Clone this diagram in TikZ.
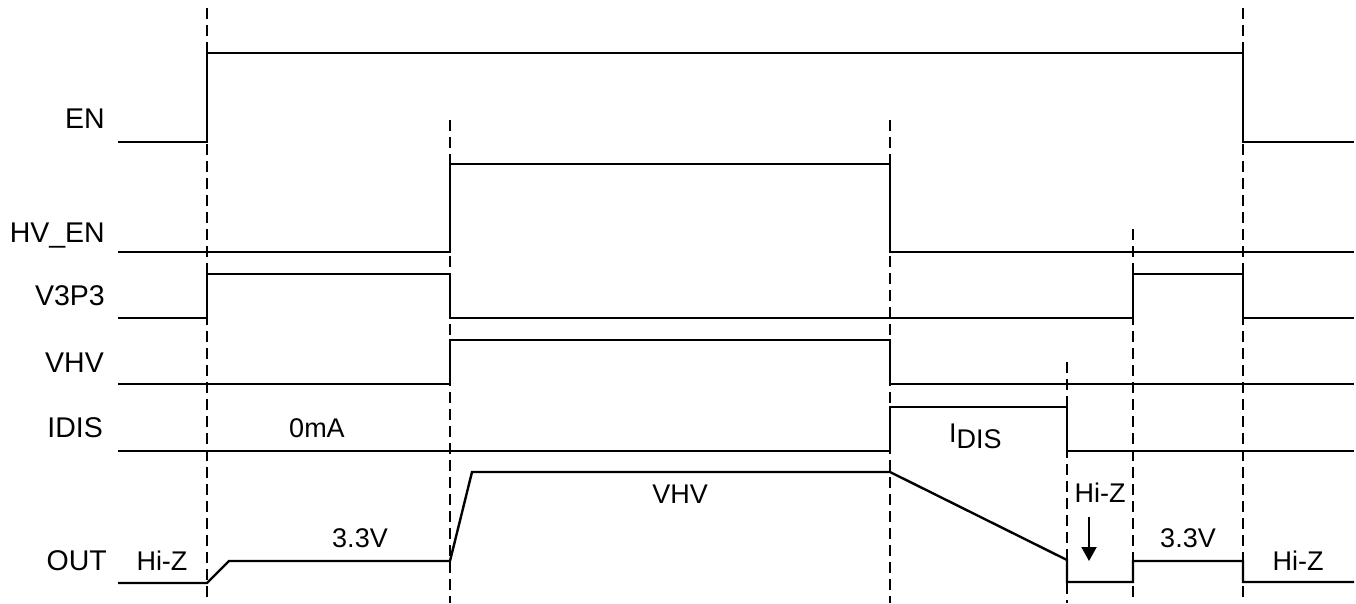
\documentclass[tikz,border=0pt]{standalone}
\usepackage{fontspec}
\setmainfont{Liberation Sans}
\usetikzlibrary{arrows.meta}
\begin{document}
\begin{tikzpicture}[x=1pt,y=-1pt,
  sig/.style={line width=2.4pt, line join=miter},
  guide/.style={line width=2pt, dash pattern=on 11pt off 6pt},
  lbl/.style={anchor=base east, inner sep=0pt, font=\fontsize{28.5}{32}\selectfont},
  txt/.style={anchor=base, inner sep=0pt, font=\fontsize{27}{31}\selectfont}]
\useasboundingbox (0,0) rectangle (1356,603);
% guide lines
\draw[guide] (207,8) -- (207,603);
\draw[guide] (450,120) -- (450,603);
\draw[guide] (890,120) -- (890,603);
\draw[guide] (1067,362) -- (1067,603);
\draw[guide] (1133,229) -- (1133,603);
\draw[guide] (1243,8) -- (1243,603);
% signals
\draw[sig] (118,142) -- (207,142) -- (207,53) -- (1243,53) -- (1243,142) -- (1354,142);
\draw[sig] (118,252) -- (450,252) -- (450,164) -- (890,164) -- (890,252) -- (1354,252);
\draw[sig] (118,318) -- (207,318) -- (207,274) -- (450,274) -- (450,318) -- (1133,318) -- (1133,274) -- (1243,274) -- (1243,318) -- (1354,318);
\draw[sig] (118,384) -- (450,384) -- (450,340) -- (890,340) -- (890,384) -- (1354,384);
\draw[sig] (118,451) -- (890,451) -- (890,407) -- (1067,407) -- (1067,451) -- (1354,451);
\draw[sig] (118,583) -- (207,583) -- (229,561) -- (450,561) -- (472,472) -- (890,472) -- (1067,560) -- (1067,582) -- (1133,582) -- (1133,561) -- (1243,561) -- (1243,582) -- (1354,582);
% labels
\node[lbl] (lEN) at (105,128) {EN};
\node[lbl] (lHVEN) at (105,242) {HV\_EN};
\node[lbl] (lV3P3) at (105,305) {V3P3};
\node[lbl] (lVHV) at (104,372) {VHV};
\node[lbl] (lIDIS) at (103,437) {IDIS};
\node[lbl] (lOUT) at (107,570) {OUT};
% annotations
\node[txt] (hz1) at (162,570) {Hi-Z};
\node[txt] (ma0) at (317,437) {0mA};
\node[txt] (v33a) at (360,547) {3.3V};
\node[txt] (vhv) at (680,503) {VHV};
\node[txt, anchor=base west] (idis) at (949,442) {I\raisebox{-6pt}{DIS}};
\node[txt] (hz2) at (1100,502) {Hi-Z};
\node[txt] (v33b) at (1188,547) {3.3V};
\node[txt] (hz3) at (1298,570) {Hi-Z};
\coordinate (arA) at (1089,517);
\coordinate (arB) at (1089,561);
\draw[line width=2pt, -{Triangle[length=14pt,width=15pt]}] (arA) -- (arB);
\end{tikzpicture}
\end{document}
